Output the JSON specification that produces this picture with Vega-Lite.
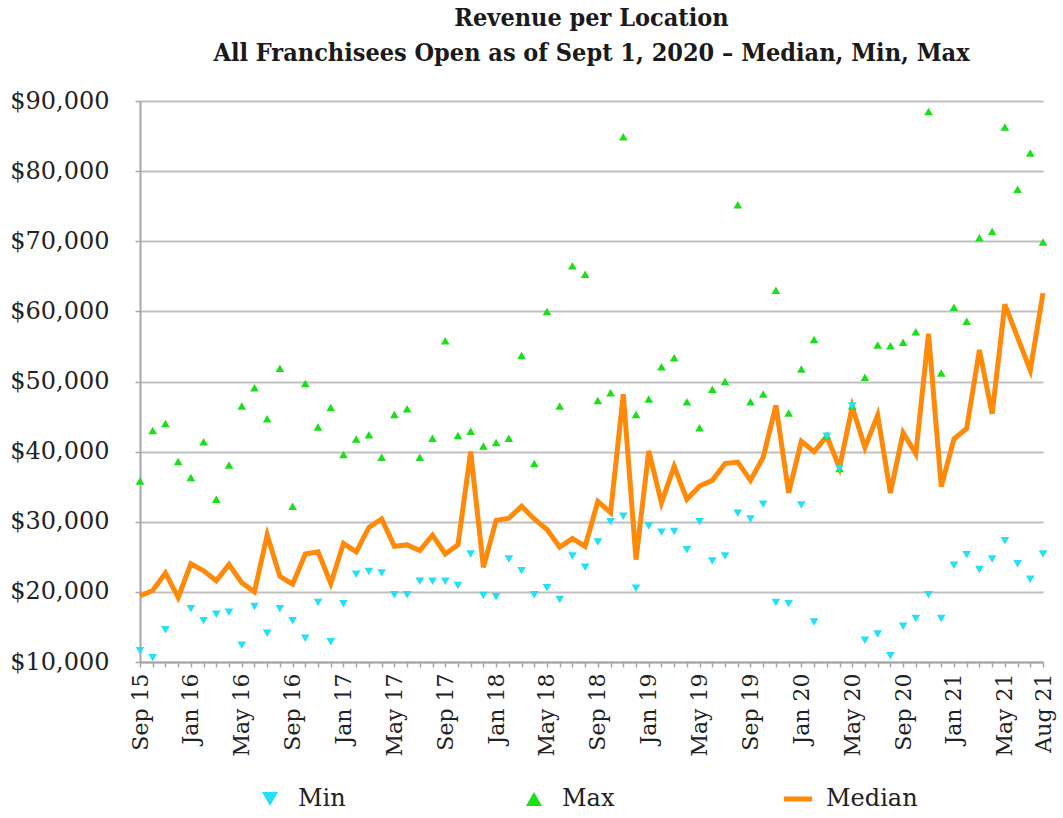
{
  "$schema": "https://vega.github.io/schema/vega-lite/v6.json",
  "width": 903,
  "height": 561,
  "autosize": {"type": "none"},
  "padding": {"left": 140, "top": 101, "right": 20, "bottom": 156},
  "background": "white",
  "title": {
    "text": ["Revenue per Location", "All Franchisees Open as of Sept 1, 2020 – Median, Min, Max"],
    "font": "DejaVu Serif Condensed",
    "fontWeight": "bold",
    "fontSize": 25,
    "lineHeight": 35,
    "color": "#1a1a1a",
    "anchor": "middle",
    "offset": 23
  },
  "config": {
    "view": {"stroke": null},
    "axis": {
      "labelFont": "DejaVu Serif",
      "labelFontSize": 22,
      "labelColor": "#222222",
      "domainColor": "#a6a6a6",
      "domainWidth": 2,
      "tickColor": "#a6a6a6",
      "tickWidth": 1.5,
      "gridColor": "#c0c0c0",
      "gridWidth": 2
    }
  },
  "data": {
    "values": [
      {"month": "Sep 15", "min": 11600, "max": 35800, "median": 19400},
      {"month": "Oct 15", "min": 10600, "max": 43000, "median": 20200},
      {"month": "Nov 15", "min": 14600, "max": 44000, "median": 22700},
      {"month": "Dec 15", "min": null, "max": 38600, "median": 19200},
      {"month": "Jan 16", "min": 17600, "max": 36300, "median": 24000},
      {"month": "Feb 16", "min": 15900, "max": 41400, "median": 23000},
      {"month": "Mar 16", "min": 16800, "max": 33200, "median": 21600},
      {"month": "Apr 16", "min": 17100, "max": 38100, "median": 23900},
      {"month": "May 16", "min": 12400, "max": 46500, "median": 21300},
      {"month": "Jun 16", "min": 17900, "max": 49100, "median": 20000},
      {"month": "Jul 16", "min": 14100, "max": 44700, "median": 28100},
      {"month": "Aug 16", "min": 17600, "max": 51900, "median": 22200},
      {"month": "Sep 16", "min": 15900, "max": 32200, "median": 21100},
      {"month": "Oct 16", "min": 13400, "max": 49700, "median": 25400},
      {"month": "Nov 16", "min": 18500, "max": 43500, "median": 25700},
      {"month": "Dec 16", "min": 12900, "max": 46300, "median": 21200},
      {"month": "Jan 17", "min": 18300, "max": 39600, "median": 26900},
      {"month": "Feb 17", "min": 22500, "max": 41800, "median": 25700},
      {"month": "Mar 17", "min": 22900, "max": 42400, "median": 29200},
      {"month": "Apr 17", "min": 22700, "max": 39200, "median": 30400},
      {"month": "May 17", "min": 19600, "max": 45300, "median": 26500},
      {"month": "Jun 17", "min": 19600, "max": 46100, "median": 26700},
      {"month": "Jul 17", "min": 21500, "max": 39200, "median": 25900},
      {"month": "Aug 17", "min": 21500, "max": 41900, "median": 28100},
      {"month": "Sep 17", "min": 21500, "max": 55800, "median": 25400},
      {"month": "Oct 17", "min": 20900, "max": 42300, "median": 26700},
      {"month": "Nov 17", "min": 25400, "max": 42900, "median": 40000},
      {"month": "Dec 17", "min": 19500, "max": 40800, "median": 23500},
      {"month": "Jan 18", "min": 19300, "max": 41300, "median": 30200},
      {"month": "Feb 18", "min": 24700, "max": 41900, "median": 30500},
      {"month": "Mar 18", "min": 23000, "max": 53700, "median": 32200},
      {"month": "Apr 18", "min": 19600, "max": 38300, "median": 30400},
      {"month": "May 18", "min": 20600, "max": 60000, "median": 28900},
      {"month": "Jun 18", "min": 18900, "max": 46500, "median": 26400},
      {"month": "Jul 18", "min": 25100, "max": 66500, "median": 27600},
      {"month": "Aug 18", "min": 23500, "max": 65300, "median": 26500},
      {"month": "Sep 18", "min": 27100, "max": 47300, "median": 32900},
      {"month": "Oct 18", "min": 30000, "max": 48400, "median": 31300},
      {"month": "Nov 18", "min": 30800, "max": 84900, "median": 48200},
      {"month": "Dec 18", "min": 20500, "max": 45300, "median": 24600},
      {"month": "Jan 19", "min": 29400, "max": 47500, "median": 40100},
      {"month": "Feb 19", "min": 28500, "max": 52100, "median": 32700},
      {"month": "Mar 19", "min": 28600, "max": 53400, "median": 37900},
      {"month": "Apr 19", "min": 26000, "max": 47100, "median": 33200},
      {"month": "May 19", "min": 30000, "max": 43400, "median": 35100},
      {"month": "Jun 19", "min": 24400, "max": 48900, "median": 35900},
      {"month": "Jul 19", "min": 25100, "max": 50000, "median": 38300},
      {"month": "Aug 19", "min": 31200, "max": 75200, "median": 38500},
      {"month": "Sep 19", "min": 30400, "max": 47100, "median": 35900},
      {"month": "Oct 19", "min": 32500, "max": 48200, "median": 39200},
      {"month": "Nov 19", "min": 18500, "max": 63000, "median": 46600},
      {"month": "Dec 19", "min": 18300, "max": 45500, "median": 34100},
      {"month": "Jan 20", "min": 32400, "max": 51800, "median": 41500},
      {"month": "Feb 20", "min": 15700, "max": 56000, "median": 40000},
      {"month": "Mar 20", "min": 42200, "max": 42200, "median": 42200},
      {"month": "Apr 20", "min": 37600, "max": 37600, "median": 37700},
      {"month": "May 20", "min": 46500, "max": 46500, "median": 46400},
      {"month": "Jun 20", "min": 13100, "max": 50600, "median": 40600},
      {"month": "Jul 20", "min": 14000, "max": 55200, "median": 45200},
      {"month": "Aug 20", "min": 10900, "max": 55100, "median": 34100},
      {"month": "Sep 20", "min": 15100, "max": 55600, "median": 42700},
      {"month": "Oct 20", "min": 16200, "max": 57100, "median": 39700},
      {"month": "Nov 20", "min": 19600, "max": 88500, "median": 56800},
      {"month": "Dec 20", "min": 16200, "max": 51200, "median": 35000},
      {"month": "Jan 21", "min": 23800, "max": 60600, "median": 41800},
      {"month": "Feb 21", "min": 25300, "max": 58600, "median": 43300},
      {"month": "Mar 21", "min": 23200, "max": 70500, "median": 54500},
      {"month": "Apr 21", "min": 24700, "max": 71400, "median": 45400},
      {"month": "May 21", "min": 27300, "max": 86300, "median": 61000},
      {"month": "Jun 21", "min": 24000, "max": 77400, "median": 56300},
      {"month": "Jul 21", "min": 21800, "max": 82600, "median": 51600},
      {"month": "Aug 21", "min": 25400, "max": 69900, "median": 62600}
    ]
  },
  "encoding": {
    "x": {
      "field": "month",
      "type": "ordinal",
      "sort": null,
      "scale": {"type": "point", "padding": 0},
      "axis": {
        "title": null,
        "labelAngle": 270,
        "labelAlign": "right",
        "labelBaseline": "middle",
        "labelPadding": 6,
        "tickSize": 5,
        "grid": false,
        "labelExpr": "(indexof(['Sep','Jan','May'], substring(datum.value,0,3)) >= 0 || datum.value == 'Aug 21') ? datum.value : ''"
      }
    }
  },
  "layer": [
    {
      "mark": {"type": "line", "strokeWidth": 5, "strokeJoin": "miter", "strokeMiterLimit": 4},
      "encoding": {
        "y": {
          "field": "median",
          "type": "quantitative",
          "scale": {"domain": [10000, 90000], "nice": false, "zero": false},
          "axis": {
            "title": null,
            "values": [10000, 20000, 30000, 40000, 50000, 60000, 70000, 80000, 90000],
            "format": "$,.0f",
            "tickSize": 5,
            "labelPadding": 26,
            "labelFontSize": 24,
            "grid": true
          }
        },
        "color": {
          "datum": "Median",
          "type": "nominal",
          "scale": {"domain": ["Min", "Max", "Median"], "range": ["#22e0f5", "#19e019", "#ff8a0a"]},
          "legend": {
            "title": null,
            "orient": "none",
            "legendX": 118,
            "legendY": 686,
            "direction": "horizontal",
            "columns": 3,
            "gridAlign": "all",
            "columnPadding": 119,
            "labelFont": "DejaVu Serif",
            "labelFontSize": 24,
            "labelColor": "#222222",
            "labelOffset": 16,
            "symbolSize": 260,
            "encode": {
              "symbols": {
                "update": {
                  "shape": {"signal": "datum.value == 'Median' ? 'stroke' : (datum.value == 'Min' ? 'triangle-down' : 'triangle-up')"},
                  "size": {"signal": "datum.value == 'Median' ? 800 : 260"},
                  "strokeWidth": {"signal": "datum.value == 'Median' ? 5 : 0"},
                  "stroke": {"signal": "datum.value == 'Median' ? '#ff8a0a' : 'transparent'"},
                  "fill": {"signal": "datum.value == 'Min' ? '#22e0f5' : (datum.value == 'Max' ? '#19e019' : 'transparent')"},
                  "opacity": {"value": 1},
                  "fillOpacity": {"value": 1}
                }
              }
            }
          }
        }
      }
    },
    {
      "mark": {"type": "point", "shape": "triangle-up", "filled": true, "size": 75, "opacity": 1},
      "encoding": {
        "y": {"field": "max", "type": "quantitative"},
        "color": {"datum": "Max", "type": "nominal"}
      }
    },
    {
      "mark": {"type": "point", "shape": "triangle-down", "filled": true, "size": 75, "opacity": 1},
      "encoding": {
        "y": {"field": "min", "type": "quantitative"},
        "color": {"datum": "Min", "type": "nominal"}
      }
    }
  ]
}
